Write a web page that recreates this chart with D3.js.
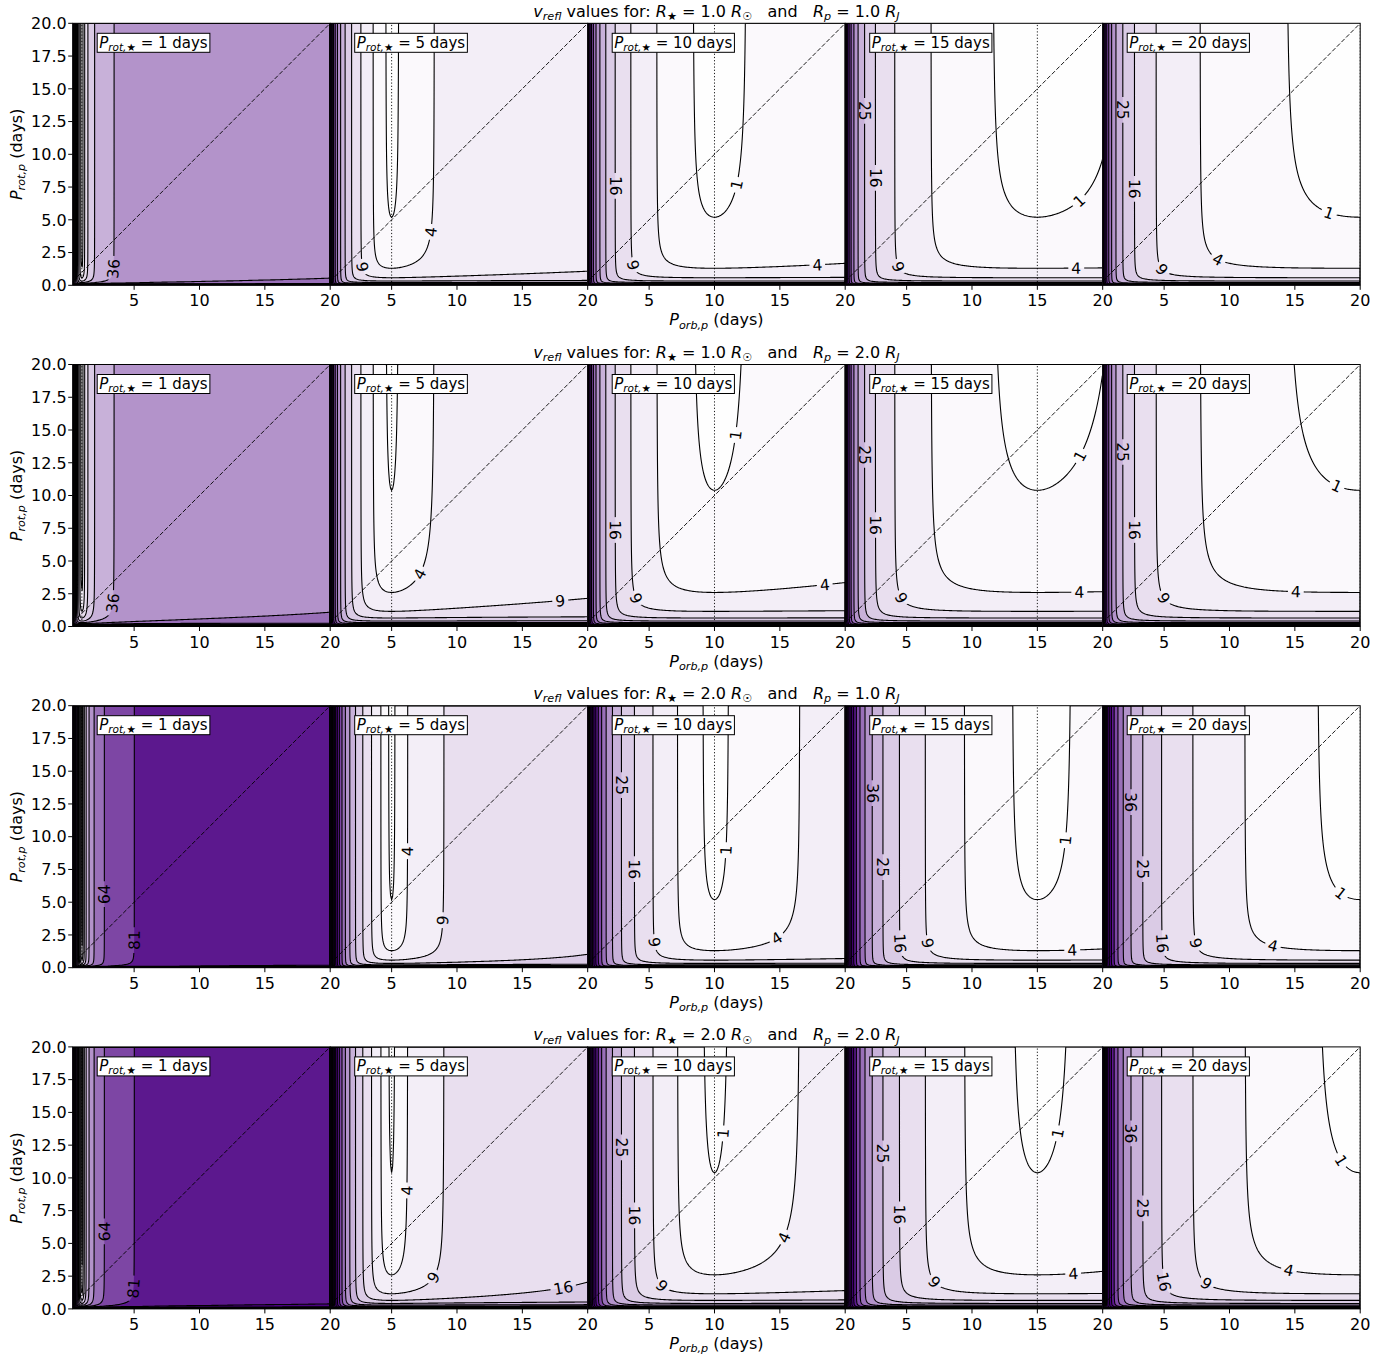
<!DOCTYPE html>
<html>
<head>
<meta charset="utf-8">
<script src="https://cdn.jsdelivr.net/npm/d3@7"></script>
<style>
  body { margin: 0; background: #fff; }
  text { font-family: "DejaVu Sans", sans-serif; white-space: pre; }
</style>
</head>
<body>
<div id="chart"></div>
<script>
// ---- chart values ----
const starPeriods = [1, 5, 10, 15, 20];        // P_rot,star of each column (days)
const starRadii = [1.0, 1.0, 2.0, 2.0];        // R_star of each row (R_sun)
const planetRadii = [1.0, 2.0, 1.0, 2.0];      // R_p of each row (R_J)
const levels = [0, 1, 4, 9, 16, 25, 36, 49, 64, 81, 100, 121, 144, 169, 196,
                225, 256, 289, 324, 361, 400, 441, 484, 529, 576, 625, 676,
                729, 784, 841, 900];
const xTicks = [5, 10, 15, 20];
const yTicks = [0, 2.5, 5, 7.5, 10, 12.5, 15, 17.5, 20];

// where the contour labels sit: [level, P_orb, P_rot,p] per panel, per row
const labelHints = [
  [
    [[36, 3.3, 1.3]],
    [[4, 7.94, 4.1], [9, 2.96, 1.45]],
    [[16, 2.54, 7.6], [9, 3.99, 1.6], [4, 17.85, 1.68], [1, 11.73, 7.7]],
    [[25, 1.89, 13.3], [16, 2.73, 8.2], [9, 4.57, 1.53], [4, 17.96, 1.37], [1, 18.1, 6.5]],
    [[25, 2.0, 13.4], [16, 2.92, 7.4], [9, 4.9, 1.3], [4, 9.14, 2.06], [1, 17.7, 5.7]]
  ],
  [
    [[36, 3.3, 1.8]],
    [[4, 7.0, 4.1], [9, 17.9, 2.1]],
    [[1, 11.65, 14.6], [16, 2.54, 7.4], [9, 4.15, 2.2], [4, 18.4, 3.3]],
    [[25, 1.89, 13.1], [16, 2.73, 7.75], [9, 4.7, 2.25], [4, 18.2, 2.7], [1, 18.2, 13.0]],
    [[25, 2.0, 13.3], [16, 2.9, 7.4], [9, 5.1, 2.25], [4, 15.1, 2.8], [1, 18.2, 10.8]]
  ],
  [
    [[64, 2.6, 5.6], [81, 4.9, 2.1]],
    [[4, 6.1, 8.9], [9, 8.8, 3.6]],
    [[25, 2.9, 13.9], [16, 4.0, 7.5], [9, 5.6, 2.0], [4, 14.7, 2.3], [1, 10.7, 9.0]],
    [[36, 2.5, 13.3], [25, 3.3, 7.7], [16, 4.67, 1.9], [9, 6.8, 1.9], [4, 17.7, 1.4], [1, 17.1, 9.75]],
    [[36, 2.55, 12.6], [25, 3.45, 7.5], [16, 4.9, 1.9], [9, 7.5, 1.9], [4, 13.3, 1.7], [1, 18.7, 5.9]]
  ],
  [
    [[64, 2.6, 5.9], [81, 4.9, 1.6]],
    [[4, 6.0, 9.05], [9, 8.1, 2.5], [16, 18.1, 1.7]],
    [[1, 10.6, 13.4], [25, 2.9, 12.3], [16, 4.0, 7.1], [9, 6.1, 1.9], [4, 15.2, 5.5]],
    [[1, 16.5, 13.4], [25, 3.3, 11.9], [16, 4.67, 7.2], [9, 7.2, 2.1], [4, 17.75, 2.7]],
    [[36, 2.55, 13.4], [25, 3.45, 7.7], [16, 5.1, 2.1], [9, 8.3, 2.0], [4, 14.5, 2.9], [1, 18.6, 11.4]]
  ]
];

// ---- layout ----
const width = 1397, height = 1356;
const panelLeft = 72.7, panelW = 257.5, panelH = 262;
const rowTop0 = 23.3, rowStep = 341.2;
const xMin = 0.3, xMax = 20, yMin = 0, yMax = 20;
const nx = 258, ny = 262;
const lineW = 1.1;

const R_SUN = 695700, R_JUP = 71492, DAY = 86400;

const cmap = d3.interpolateRgb("#ffffff", "#4b0082");
function bandColor(k) {
  const lo = levels[k], hi = k + 1 < levels.length ? levels[k + 1] : 200;
  return cmap(Math.min(1, (lo + hi) / 2 / 100));
}

const svg = d3.select("#chart").append("svg")
  .attr("width", width)
  .attr("height", height);
const defs = svg.append("defs");

// mathtext-ish rich text: parts = [text, italic, subscript]
function richText(sel, parts, size) {
  let sub = false;
  parts.forEach(([t, it, s]) => {
    const ts = sel.append("tspan").text(t);
    if (it) ts.attr("font-style", "italic");
    if (s && !sub) ts.attr("dy", size * 0.2);
    if (!s && sub) ts.attr("dy", -size * 0.2);
    if (s) ts.attr("font-size", size * 0.7);
    sub = s;
  });
}

starRadii.forEach((rStar, r) => {
  const rPlanet = planetRadii[r];
  const top = rowTop0 + r * rowStep;
  const bottom = top + panelH;
  const y = d3.scaleLinear().domain([yMin, yMax]).range([bottom, top]);

  starPeriods.forEach((pStar, c) => {
    const left = panelLeft + c * panelW;
    const x = d3.scaleLinear().domain([xMin, xMax]).range([left, left + panelW]);
    const id = `p${r}_${c}`;

    // v_refl on a grid
    const values = new Float64Array(nx * ny);
    const vS = 2 * Math.PI * rStar * R_SUN / DAY;
    const vP = 2 * Math.PI * rPlanet * R_JUP / DAY;
    for (let j = 0; j < ny; j++) {
      const prot = yMin + (j + 0.5) * (yMax - yMin) / ny;
      for (let i = 0; i < nx; i++) {
        const porb = xMin + (i + 0.5) * (xMax - xMin) / nx;
        const a = vS * Math.abs(1 / pStar - 1 / porb);
        const b = vP / prot;
        values[i + j * nx] = Math.sqrt(a * a + b * b);
      }
    }
    const contours = d3.contours().size([nx, ny]).thresholds(levels)(values);

    const gx = g => x(xMin + g * (xMax - xMin) / nx);
    const gy = g => y(yMin + g * (yMax - yMin) / ny);
    const path = d3.geoPath(d3.geoTransform({
      point(a, b) { this.stream.point(gx(a), gy(b)); }
    }));

    defs.append("clipPath").attr("id", "clip-" + id)
      .append("rect").attr("x", left).attr("y", top)
      .attr("width", panelW).attr("height", panelH);

    const g = svg.append("g").attr("clip-path", `url(#clip-${id})`);

    // filled bands
    g.append("g").selectAll("path")
      .data(contours)
      .join("path")
        .attr("d", d => path(d))
        .attr("fill", (d, k) => bandColor(k))
        .attr("stroke", "none");

    // contour lines (masked under the labels)
    const mask = defs.append("mask").attr("id", "mask-" + id)
      .attr("maskUnits", "userSpaceOnUse")
      .attr("x", left - 5).attr("y", top - 5)
      .attr("width", panelW + 10).attr("height", panelH + 10);
    mask.append("rect")
      .attr("x", left - 5).attr("y", top - 5)
      .attr("width", panelW + 10).attr("height", panelH + 10)
      .attr("fill", "#fff");

    g.append("g").attr("mask", `url(#mask-${id})`)
      .selectAll("path")
      .data(contours.slice(1))
      .join("path")
        .attr("d", d => path(d))
        .attr("fill", "none")
        .attr("stroke", "#000")
        .attr("stroke-width", lineW);

    // contour labels
    const labelG = g.append("g");
    labelHints[r][c].forEach(([lev, hx, hy]) => {
      const cont = contours[levels.indexOf(lev)];
      const tx = x(hx), ty = y(hy);
      let best = null, bd = Infinity;
      cont.coordinates.forEach(poly => poly.forEach(ring => {
        ring.forEach((p, idx) => {
          if (p[0] <= 0.01 || p[0] >= nx - 0.01 || p[1] <= 0.01 || p[1] >= ny - 0.01) return;
          const d = (gx(p[0]) - tx) ** 2 + (gy(p[1]) - ty) ** 2;
          if (d < bd) { bd = d; best = { ring, idx }; }
        });
      }));
      if (!best) return;
      const n = best.ring.length;
      const p = best.ring[best.idx];
      const p0 = best.ring[(best.idx - 4 + n) % n];
      const p1 = best.ring[(best.idx + 4) % n];
      let ang = Math.atan2(gy(p1[1]) - gy(p0[1]), gx(p1[0]) - gx(p0[0])) * 180 / Math.PI;
      ang = ((ang + 90) % 180 + 180) % 180 - 90;
      const sx = gx(p[0]), sy = gy(p[1]);
      const t = labelG.append("text")
        .attr("transform", `translate(${sx},${sy}) rotate(${ang})`)
        .attr("text-anchor", "middle")
        .attr("dy", "0.36em")
        .attr("font-size", 15.5)
        .attr("fill", "#000")
        .text(lev);
      const len = t.node().getComputedTextLength();
      mask.append("rect")
        .attr("transform", `translate(${sx},${sy}) rotate(${ang})`)
        .attr("x", -len / 2 - 3).attr("y", -4)
        .attr("width", len + 6).attr("height", 8)
        .attr("fill", "#000");
    });

    // reference lines: P_orb = P_rot,star and P_rot,p = P_orb
    g.append("line")
      .attr("x1", x(pStar)).attr("x2", x(pStar))
      .attr("y1", y(yMin)).attr("y2", y(yMax))
      .attr("stroke", "#000").attr("stroke-width", 0.9)
      .attr("stroke-dasharray", "1.2,2");
    g.append("line")
      .attr("x1", x(xMin)).attr("y1", y(xMin))
      .attr("x2", x(xMax)).attr("y2", y(xMax))
      .attr("stroke", "#000").attr("stroke-width", 0.9)
      .attr("stroke-dasharray", "4.5,2");

    // spines
    svg.append("rect")
      .attr("x", left).attr("y", top)
      .attr("width", panelW).attr("height", panelH)
      .attr("fill", "none").attr("stroke", "#000").attr("stroke-width", 1);

    // x ticks
    const xt = svg.append("g");
    xt.selectAll("line").data(xTicks).join("line")
      .attr("x1", d => x(d)).attr("x2", d => x(d))
      .attr("y1", bottom).attr("y2", bottom + 4.5)
      .attr("stroke", "#000").attr("stroke-width", 1);
    xt.selectAll("text").data(xTicks).join("text")
      .attr("x", d => x(d)).attr("y", bottom + 21)
      .attr("text-anchor", "middle")
      .attr("font-size", 16)
      .text(d => d);

    // y ticks on the first panel only
    if (c === 0) {
      const yt = svg.append("g");
      yt.selectAll("line").data(yTicks).join("line")
        .attr("x1", left - 4.5).attr("x2", left)
        .attr("y1", d => y(d)).attr("y2", d => y(d))
        .attr("stroke", "#000").attr("stroke-width", 1);
      yt.selectAll("text").data(yTicks).join("text")
        .attr("x", left - 6).attr("y", d => y(d))
        .attr("dy", "0.36em")
        .attr("text-anchor", "end")
        .attr("font-size", 16)
        .text(d => d.toFixed(1));
      const yl = svg.append("text")
        .attr("transform", `translate(22,${(top + bottom) / 2}) rotate(-90)`)
        .attr("text-anchor", "middle")
        .attr("font-size", 16);
      richText(yl, [["P", 1, 0], ["rot,p", 1, 1], [" (days)", 0, 0]], 16);
    }

    // panel label box
    const lab = svg.append("text")
      .attr("x", left + 26.5).attr("y", top + 24.5)
      .attr("font-size", 15);
    richText(lab, [["P", 1, 0], ["rot,", 1, 1], ["\u2605", 0, 1], [` = ${pStar} days`, 0, 0]], 15);
    const bb = lab.node().getBBox();
    svg.insert("rect", () => lab.node())
      .attr("x", bb.x - 2).attr("y", top + 10)
      .attr("width", bb.width + 4).attr("height", 19)
      .attr("fill", "#fff").attr("stroke", "#000").attr("stroke-width", 1);
  });

  // row title and x label
  const mid = panelLeft + panelW * starPeriods.length / 2;
  const title = svg.append("text")
    .attr("x", mid).attr("y", top - 6.5)
    .attr("text-anchor", "middle")
    .attr("font-size", 16);
  richText(title, [
    ["v", 1, 0], ["refl", 1, 1], [" values for: ", 0, 0],
    ["R", 1, 0], ["\u2605", 0, 1], [` = ${rStar.toFixed(1)} `, 0, 0],
    ["R", 1, 0], ["\u2609", 0, 1], ["   and   ", 0, 0],
    ["R", 1, 0], ["p", 1, 1], [` = ${rPlanet.toFixed(1)} `, 0, 0],
    ["R", 1, 0], ["J", 1, 1]
  ], 16);

  const xl = svg.append("text")
    .attr("x", mid).attr("y", bottom + 40)
    .attr("text-anchor", "middle")
    .attr("font-size", 16);
  richText(xl, [["P", 1, 0], ["orb,p", 1, 1], [" (days)", 0, 0]], 16);
});
</script>
</body>
</html>
